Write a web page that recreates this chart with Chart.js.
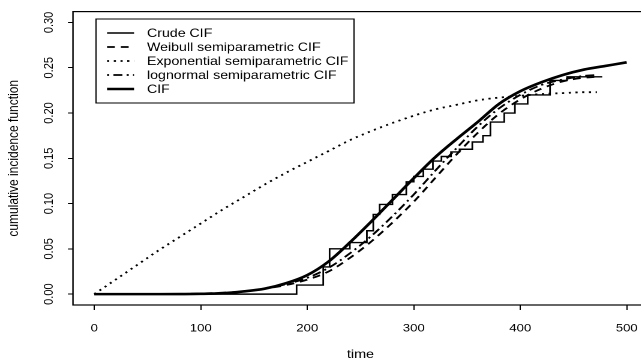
<!DOCTYPE html>
<html>
<head>
<meta charset="utf-8">
<script src="https://cdn.jsdelivr.net/npm/chart.js@4/dist/chart.umd.min.js"></script>
<style>
  html, body { margin: 0; padding: 0; background: #fff; overflow: hidden; width: 641px; height: 362px; }
  #wrap { width: 545px; height: 362px; transform: scaleX(1.2); transform-origin: 0 0; }
</style>
</head>
<body>
<div id="wrap"><canvas id="c" width="545" height="362"></canvas></div>
<script>
// ---- data ----
const xTicks = [0, 100, 200, 300, 400, 500];
const yTicks = [0, 0.05, 0.10, 0.15, 0.20, 0.25, 0.30];

const crudeTime = [0, 190, 215, 221, 240, 256, 262, 268, 280, 293, 300, 309, 318, 326, 335, 343, 355, 365, 372, 385, 395, 407, 428, 444, 477];
const crudeCIF  = [0, 0.010, 0.030, 0.050, 0.057, 0.070, 0.088, 0.099, 0.110, 0.124, 0.130, 0.138, 0.147, 0.152, 0.157, 0.160, 0.168, 0.175, 0.190, 0.200, 0.210, 0.220, 0.236, 0.240, 0.240];

const semiTime = [0, 20, 40, 60, 80, 100, 120, 140, 160, 180, 200, 220, 240, 260, 280, 300, 320, 340, 360, 380, 400, 420, 440, 460, 472];
const weibullCIF   = [0, 0, 0, 0, 0.0002, 0.0007, 0.0015, 0.003, 0.006, 0.010, 0.016, 0.025, 0.040, 0.058, 0.079, 0.102, 0.128, 0.154, 0.178, 0.199, 0.215, 0.227, 0.235, 0.239, 0.240];
const expCIF       = [0, 0.016, 0.032, 0.048, 0.063, 0.078, 0.093, 0.107, 0.121, 0.134, 0.146, 0.158, 0.170, 0.180, 0.189, 0.197, 0.204, 0.209, 0.214, 0.217, 0.219, 0.221, 0.222, 0.223, 0.223];
const lognormalCIF = [0, 0, 0, 0, 0.0001, 0.0004, 0.001, 0.003, 0.006, 0.011, 0.018, 0.029, 0.045, 0.064, 0.086, 0.110, 0.136, 0.161, 0.185, 0.205, 0.220, 0.231, 0.237, 0.241, 0.242];

const cifTime = [0, 20, 40, 60, 80, 100, 120, 140, 160, 180, 200, 220, 240, 260, 280, 300, 320, 340, 360, 380, 400, 420, 440, 460, 480, 500];
const cifCIF  = [0, 0, 0, 0, 0.0001, 0.0003, 0.001, 0.003, 0.006, 0.012, 0.021, 0.036, 0.057, 0.080, 0.104, 0.128, 0.151, 0.171, 0.190, 0.210, 0.224, 0.234, 0.242, 0.248, 0.252, 0.256];

const labels = ['Crude CIF', 'Weibull semiparametric CIF', 'Exponential semiparametric CIF', 'lognormal semiparametric CIF', 'CIF'];

const pts = (xs, ys) => xs.map((x, i) => ({x: x, y: ys[i]}));

Chart.defaults.font.family = "'Liberation Sans', Arial, Helvetica, sans-serif";
Chart.defaults.color = '#000';

const boxPlugin = {
  id: 'boxPlugin',
  afterDraw(chart) {
    const {ctx, chartArea: a} = chart;
    ctx.save();
    ctx.strokeStyle = '#000';
    ctx.lineWidth = 1.2;
    ctx.strokeRect(a.left, a.top, a.right - a.left, a.bottom - a.top);
    // legend
    const bx = 80, by = 19, bw = 215, bh = 84;
    ctx.fillStyle = '#fff';
    ctx.fillRect(bx, by, bw, bh);
    ctx.lineWidth = 1;
    ctx.strokeRect(bx, by, bw, bh);
    ctx.font = "11.8px 'Liberation Sans', Arial, sans-serif";
    ctx.textBaseline = 'middle';
    ctx.textAlign = 'left';
    chart.data.datasets.forEach((ds, i) => {
      const y = 33 + 14 * i;
      ctx.beginPath();
      ctx.setLineDash(ds.borderDash || []);
      ctx.lineWidth = ds.borderWidth;
      ctx.strokeStyle = '#000';
      ctx.moveTo(89.2, y);
      ctx.lineTo(111.7, y);
      ctx.stroke();
      ctx.setLineDash([]);
      ctx.fillStyle = '#000';
      ctx.fillText(ds.label, 122.5, y + 0.5);
    });
    ctx.restore();
  }
};

new Chart(document.getElementById('c'), {
  type: 'line',
  data: {
    datasets: [
      {label: labels[0], data: pts(crudeTime, crudeCIF), stepped: 'before', borderColor: '#000', borderWidth: 1.4, pointRadius: 0, fill: false},
      {label: labels[1], data: pts(semiTime, weibullCIF), borderColor: '#000', borderWidth: 1.8, borderDash: [6.5, 5], pointRadius: 0, cubicInterpolationMode: 'monotone', fill: false},
      {label: labels[2], data: pts(semiTime, expCIF), borderColor: '#000', borderWidth: 1.8, borderDash: [1.8, 3.8], pointRadius: 0, cubicInterpolationMode: 'monotone', fill: false},
      {label: labels[3], data: pts(semiTime, lognormalCIF), borderColor: '#000', borderWidth: 1.8, borderDash: [1.8, 3.5, 7.5, 3.5], pointRadius: 0, cubicInterpolationMode: 'monotone', fill: false},
      {label: labels[4], data: pts(cifTime, cifCIF), borderColor: '#000', borderWidth: 2.6, pointRadius: 0, cubicInterpolationMode: 'monotone', fill: false}
    ]
  },
  options: {
    responsive: false,
    animation: false,
    devicePixelRatio: 2,
    layout: {padding: {top: 7, right: 5, left: 0, bottom: 0}},
    plugins: {legend: {display: false}, tooltip: {enabled: false}},
    scales: {
      x: {
        type: 'linear', position: 'bottom', min: -20, max: 520,
        afterBuildTicks: s => { s.ticks = xTicks.map(v => ({value: v})); },
        afterFit: s => { s.height = 57; },
        ticks: {font: {size: 11}, color: '#000', padding: 12, autoSkip: false, maxRotation: 0, callback: v => String(v)},
        grid: {drawOnChartArea: false, drawTicks: true, tickLength: 5, color: '#000', lineWidth: 1},
        border: {display: false},
        title: {display: true, text: 'time', font: {size: 12}, color: '#000', padding: {top: 0, bottom: 0}}
      },
      y: {
        type: 'linear', position: 'left', min: -0.012, max: 0.312,
        afterBuildTicks: s => { s.ticks = yTicks.map(v => ({value: v})); },
        afterFit: s => { s.width = 60.8; },
        ticks: {font: {size: 11}, color: '#000', padding: 5, autoSkip: false, minRotation: 90, maxRotation: 90, crossAlign: 'center', callback: v => v.toFixed(2)},
        grid: {drawOnChartArea: false, drawTicks: true, tickLength: 4.2, color: '#000', lineWidth: 1},
        border: {display: false},
        title: {display: true, text: 'cumulative incidence function', font: {size: 12}, color: '#000', padding: {top: 4.5, bottom: 0}}
      }
    }
  },
  plugins: [boxPlugin]
});
</script>
</body>
</html>
